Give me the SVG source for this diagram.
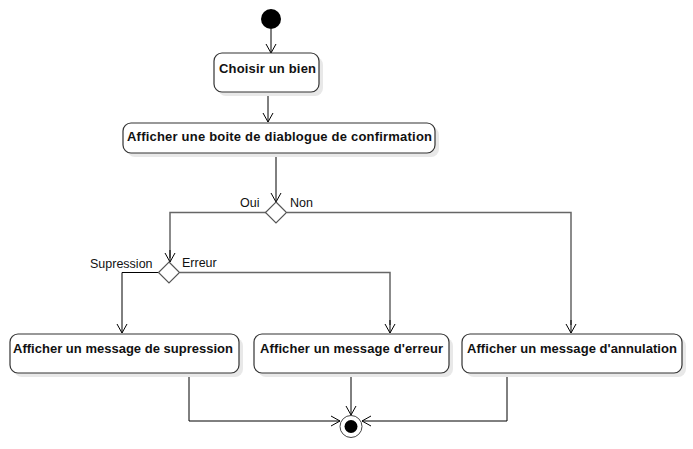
<svg xmlns="http://www.w3.org/2000/svg" width="693" height="449" viewBox="0 0 693 449">
<defs>
<marker id="arr" markerWidth="12" markerHeight="12" refX="10" refY="6" orient="auto" markerUnits="userSpaceOnUse">
<path d="M1,1 L10,6 L1,11" fill="none" stroke="#000" stroke-width="1"/>
</marker>
</defs>
<style>
.act{fill:#fff;stroke:#333;stroke-width:1.2}
.sh{fill:#e8e8e8}
.t{font-family:"Liberation Sans",Arial,sans-serif;font-size:13px;font-weight:bold;fill:#111}
.l{font-family:"Liberation Sans",Arial,sans-serif;font-size:12.5px;fill:#111}
.c{fill:none;stroke:#000;stroke-width:1}
.g{fill:none;stroke:#666;stroke-width:1.5}
.dec{fill:#fff;stroke:#555;stroke-width:1.2}
</style>
<rect width="693" height="449" fill="#fff"/>
<g id="connectors">
<path class="c" d="M271,29 L271,53" marker-end="url(#arr)"/>
<path class="c" d="M268,92 L268,122" marker-end="url(#arr)"/>
<path class="c" d="M276,153 L276,202" marker-end="url(#arr)"/>
<path class="g" d="M266,212.5 L170,212.5 L170,258"/>
<path class="c" d="M170,250 L170,262" marker-end="url(#arr)"/>
<path class="g" d="M287,212.5 L571,212.5 L571,325"/>
<path class="c" d="M571,320 L571,333" marker-end="url(#arr)"/>
<path class="c" d="M158,272.5 L122,272.5 L122,333" marker-end="url(#arr)"/>
<path class="g" d="M180,272.5 L390,272.5 L390,325"/>
<path class="c" d="M390,320 L390,333" marker-end="url(#arr)"/>
<path class="c" d="M189,373 L189,421 L340,421" marker-end="url(#arr)"/>
<path class="c" d="M351,373 L351,415" marker-end="url(#arr)"/>
<path class="c" d="M507,373 L507,421 L362,421" marker-end="url(#arr)"/>
</g>
<g id="start">
<circle cx="271" cy="19" r="10" fill="#000"/>
</g>
<g id="choisir">
<rect class="sh" x="218" y="57" width="105" height="39" rx="8"/>
<rect class="act" x="214" y="53" width="105" height="39" rx="8"/>
<text class="t" x="219" y="73" textLength="97" lengthAdjust="spacing">Choisir un bien</text>
</g>
<g id="afficher-confirmation">
<rect class="sh" x="127" y="127" width="312" height="30" rx="8"/>
<rect class="act" x="123" y="123" width="312" height="30" rx="8"/>
<text class="t" x="127" y="141" textLength="305" lengthAdjust="spacing">Afficher une boite de diablogue de confirmation</text>
</g>
<g id="decision1">
<polygon class="dec" points="276,202 286.5,212.5 276,223 265.5,212.5"/>
<text class="l" x="240" y="207">Oui</text>
<text class="l" x="290" y="207">Non</text>
</g>
<g id="decision2">
<polygon class="dec" points="169,262 179.5,272.5 169,283 158.5,272.5"/>
<text class="l" x="90" y="268">Supression</text>
<text class="l" x="182" y="267">Erreur</text>
</g>
<g id="msg-supression">
<rect class="sh" x="14" y="338" width="229" height="39" rx="8"/>
<rect class="act" x="10" y="334" width="229" height="39" rx="8"/>
<text class="t" x="13" y="353" textLength="220" lengthAdjust="spacing">Afficher un message de supression</text>
</g>
<g id="msg-erreur">
<rect class="sh" x="258" y="338" width="195" height="39" rx="8"/>
<rect class="act" x="254" y="334" width="195" height="39" rx="8"/>
<text class="t" x="260" y="353" textLength="183" lengthAdjust="spacing">Afficher un message d'erreur</text>
</g>
<g id="msg-annulation">
<rect class="sh" x="466" y="338" width="220" height="39" rx="8"/>
<rect class="act" x="462" y="334" width="220" height="39" rx="8"/>
<text class="t" x="467" y="353" textLength="210" lengthAdjust="spacing">Afficher un message d'annulation</text>
</g>
<g id="end">
<circle cx="351" cy="426.5" r="11" fill="#fff" stroke="#444" stroke-width="1"/>
<circle cx="351" cy="426.5" r="6.5" fill="#000"/>
</g>
</svg>
